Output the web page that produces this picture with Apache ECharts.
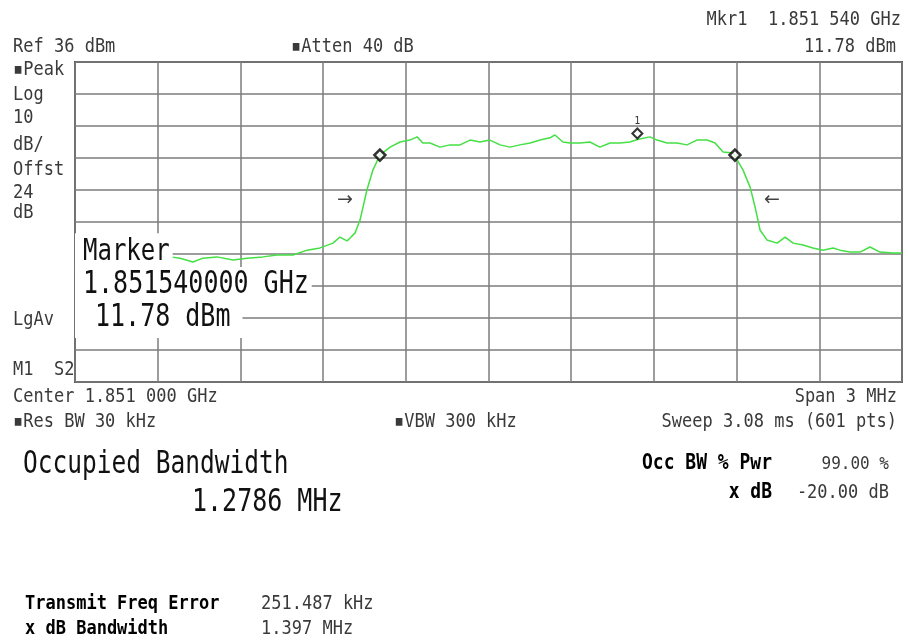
<!DOCTYPE html>
<html>
<head>
<meta charset="utf-8">
<script src="https://cdn.jsdelivr.net/npm/echarts@6/dist/echarts.min.js"></script>
<style>
  html, body { margin: 0; padding: 0; background: #fff; }
  #chart { width: 908px; height: 640px; }
</style>
</head>
<body>
<div id="chart"></div>
<script>
// spectrum trace: offset from center (kHz) and level (dBm)
var REF_LEVEL = 36;          // dBm, top of screen
var DB_PER_DIV = 10;
var SPAN_KHZ = 3000;
var freqOffsetKHz = [-1500, -1475, -1409, -1300, -1210, -1155, -1119, -1072, -1036, -985,
  -927, -876, -818, -767, -709, -658, -611, -564, -539, -513,
  -502, -484, -466, -441, -419, -394, -357, -321, -285, -259,
  -238, -212, -176, -140, -103, -67, -31, 5, 42, 78,
  114, 151, 187, 223, 241, 270, 296, 332, 368, 404,
  441, 477, 513, 540, 586, 611, 648, 684, 720, 756,
  793, 822, 851, 887, 923, 949, 967, 985, 1010, 1047,
  1076, 1105, 1141, 1177, 1213, 1250, 1275, 1311, 1348, 1384,
  1420, 1467, 1500];
var levelDbm = [-28.4, -26.8, -26.5, -25.9, -25.6, -24.9, -25.3, -26.5, -25.3, -24.9,
  -25.9, -25.3, -24.9, -24.3, -24.3, -22.8, -22.1, -20.6, -18.7, -19.9,
  -19.0, -17.4, -13.4, -4.0, 2.3, 6.9, 9.4, 11.0, 11.6, 12.6,
  10.7, 10.7, 9.4, 10.1, 10.1, 11.6, 11.0, 11.6, 10.1, 9.4,
  10.1, 10.7, 11.6, 12.3, 13.2, 11.0, 10.7, 10.7, 11.0, 9.4,
  10.7, 10.7, 11.0, 11.8, 12.6, 11.6, 10.7, 10.7, 10.1, 11.6,
  11.6, 10.7, 7.9, 7.6, 2.3, -3.1, -9.3, -16.5, -19.6, -20.6,
  -18.7, -20.6, -21.2, -22.1, -22.8, -22.1, -22.8, -23.4, -23.4, -21.8,
  -23.4, -23.7, -23.7];

// occupied bandwidth edge markers
var obwEdgeKHz = [-394, 894];
var obwEdgeDbm = [6.9, 6.9];
// marker 1
var mkr1KHz = 540;
var mkr1Dbm = 11.78;
// x dB bandwidth arrows
var arrowKHz = [-521, 1028];
var arrowDbm = [-7.1, -7.1];
var arrowText = ['\u2192', '\u2190'];

var FONT = 'DejaVu Sans Mono';

// levels are plotted relative to the reference level (top line = 0)
function rel(v) { return v - REF_LEVEL; }

var tracePoints = freqOffsetKHz.map(function (f, i) { return [f, rel(levelDbm[i])]; });
var edgePoints = obwEdgeKHz.map(function (f, i) { return [f, rel(obwEdgeDbm[i])]; });
var arrowPoints = arrowKHz.map(function (f, i) { return { value: [f, rel(arrowDbm[i])], label: { formatter: arrowText[i] } }; });

function txt(x, y, text, o) {
    o = o || {};
    return {
        type: 'text',
        x: x,
        y: y,
        scaleY: o.sy || 1.15,
        z: 100,
        style: {
            text: text,
            fill: o.color || '#3a3a3a',
            fontFamily: FONT,
            fontSize: o.size || 17,
            fontWeight: o.bold ? 'bold' : 'normal',
            align: o.align || 'left',
            verticalAlign: 'middle',
            backgroundColor: o.bg,
            padding: o.pad
        }
    };
}

var chart = echarts.init(document.getElementById('chart'));

chart.setOption({
    animation: false,
    backgroundColor: '#fff',
    grid: {
        left: 75,
        top: 62,
        width: 827,
        height: 320,
        show: true,
        borderColor: '#555',
        borderWidth: 2
    },
    xAxis: {
        type: 'value',
        min: -SPAN_KHZ / 2,
        max: SPAN_KHZ / 2,
        interval: SPAN_KHZ / 10,
        axisLine: { show: false },
        axisTick: { show: false },
        axisLabel: { show: false },
        splitLine: { lineStyle: { color: '#7d7d7d', width: 1.5 } }
    },
    yAxis: {
        type: 'value',
        min: -10 * DB_PER_DIV,
        max: 0,
        interval: DB_PER_DIV,
        axisLine: { show: false },
        axisTick: { show: false },
        axisLabel: { show: false },
        splitLine: { lineStyle: { color: '#7d7d7d', width: 1.5 } }
    },
    series: [
        {
            type: 'line',
            data: tracePoints,
            showSymbol: false,
            lineStyle: { color: '#44e044', width: 1.5 },
            z: 3
        },
        {
            type: 'scatter',
            data: edgePoints,
            symbol: 'diamond',
            symbolSize: 11,
            itemStyle: { color: '#fff', borderColor: '#000', borderWidth: 2.5 },
            z: 5
        },
        {
            type: 'scatter',
            data: [[mkr1KHz, rel(mkr1Dbm)]],
            symbol: 'diamond',
            symbolSize: 10,
            symbolOffset: [0, -6],
            itemStyle: { color: '#fff', borderColor: '#000', borderWidth: 2 },
            label: {
                show: true,
                position: 'top',
                distance: 1,
                formatter: '1',
                fontFamily: FONT,
                fontSize: 10,
                color: '#000'
            },
            z: 5
        },
        {
            type: 'scatter',
            data: arrowPoints,
            symbolSize: 1,
            itemStyle: { color: 'rgba(0,0,0,0)' },
            label: {
                show: true,
                position: 'inside',
                fontFamily: 'DejaVu Sans',
                fontSize: 19,
                color: '#111'
            },
            z: 5
        }
    ],
    graphic: [
        // header
        txt(901, 20, 'Mkr1  1.851 540 GHz', { align: 'right' }),
        txt(896, 47, '11.78 dBm', { align: 'right' }),
        txt(13, 47, 'Ref 36 dBm'),
        txt(291, 47, '\u25aaAtten 40 dB'),
        // left column
        txt(13, 70, '\u25aaPeak'),
        txt(13, 95, 'Log'),
        txt(13, 118, '10'),
        txt(13, 145, 'dB/'),
        txt(13, 170, 'Offst'),
        txt(13, 193, '24'),
        txt(13, 213, 'dB'),
        txt(13, 320, 'LgAv'),
        txt(13, 370, 'M1  S2'),
        // footer
        txt(13, 397, 'Center 1.851 000 GHz'),
        txt(897, 397, 'Span 3 MHz', { align: 'right' }),
        txt(13, 422, '\u25aaRes BW 30 kHz'),
        txt(394, 422, '\u25aaVBW 300 kHz'),
        txt(897, 422, 'Sweep 3.08 ms (601 pts)', { align: 'right' }),
        // marker readout box
        txt(75, 252, 'Marker', { size: 24, sy: 1.25, color: '#111', bg: '#fff', pad: [3, 3, 3, 8] }),
        txt(75, 285, '1.851540000 GHz', { size: 25, sy: 1.25, color: '#111', bg: '#fff', pad: [2, 3, 2, 8] }),
        txt(75, 318, '11.78 dBm', { size: 25, sy: 1.25, color: '#111', bg: '#fff', pad: [3, 12, 4, 20] }),
        // measurement results
        txt(23, 465, 'Occupied Bandwidth', { size: 24.5, sy: 1.28, color: '#111' }),
        txt(192, 503, '1.2786 MHz', { size: 25, sy: 1.28, color: '#111' }),
        txt(772, 464, 'Occ BW % Pwr', { align: 'right', bold: true, size: 18, color: '#000' }),
        txt(889, 464, '99.00 %', { align: 'right', size: 16 }),
        txt(772, 493, 'x dB', { align: 'right', bold: true, size: 18, color: '#000' }),
        txt(889, 493, '-20.00 dB', { align: 'right', size: 17 }),
        txt(25, 604, 'Transmit Freq Error', { bold: true, size: 17, color: '#000' }),
        txt(25, 629, 'x dB Bandwidth', { bold: true, size: 17, color: '#000' }),
        txt(261, 604, '251.487 kHz', { size: 17 }),
        txt(261, 629, '1.397 MHz', { size: 17 })
    ]
});
</script>
</body>
</html>
